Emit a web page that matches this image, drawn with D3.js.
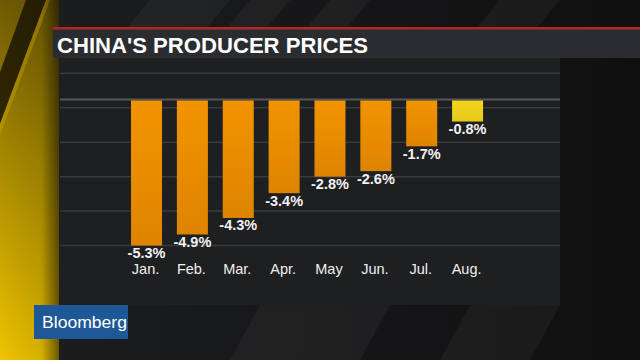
<!DOCTYPE html>
<html>
<head>
<meta charset="utf-8">
<script src="https://cdn.jsdelivr.net/npm/d3@7"></script>
<style>
  html, body { margin: 0; padding: 0; background: #151516; }
  svg { display: block; }
</style>
</head>
<body>
<svg id="chart" width="640" height="360"></svg>
<script>
// ---- data ----
const title = "CHINA'S PRODUCER PRICES";
const months = ["Jan.", "Feb.", "Mar.", "Apr.", "May", "Jun.", "Jul.", "Aug."];
const values = [-5.3, -4.9, -4.3, -3.4, -2.8, -2.6, -1.7, -0.8];
const valueLabels = ["-5.3%", "-4.9%", "-4.3%", "-3.4%", "-2.8%", "-2.6%", "-1.7%", "-0.8%"];
const gridValues = [0.95, -0.3, -1.55, -2.8, -4.05, -5.3];
const brand = "Bloomberg";

const W = 640, H = 360;
const svg = d3.select("#chart");
const defs = svg.append("defs");

// gradients
const bgGrad = defs.append("linearGradient").attr("id", "bgGrad").attr("x1", 0).attr("y1", 0).attr("x2", 1).attr("y2", 0);
bgGrad.append("stop").attr("offset", "0%").attr("stop-color", "#1d1e20");
bgGrad.append("stop").attr("offset", "100%").attr("stop-color", "#0f0f10");

const yel = defs.append("linearGradient").attr("id", "yel").attr("x1", 0).attr("y1", 0).attr("x2", 0).attr("y2", 1);
yel.append("stop").attr("offset", "0%").attr("stop-color", "#6e5a04");
yel.append("stop").attr("offset", "45%").attr("stop-color", "#a88a00");
yel.append("stop").attr("offset", "100%").attr("stop-color", "#efc400");

const shade = defs.append("linearGradient").attr("id", "shade").attr("x1", 0).attr("y1", 0).attr("x2", 1).attr("y2", 0);
shade.append("stop").attr("offset", "0%").attr("stop-color", "#000").attr("stop-opacity", 0);
shade.append("stop").attr("offset", "70%").attr("stop-color", "#000").attr("stop-opacity", 0.1);
shade.append("stop").attr("offset", "100%").attr("stop-color", "#000").attr("stop-opacity", 0.55);

const barGrad = defs.append("linearGradient").attr("id", "barGrad").attr("x1", 0).attr("y1", 0).attr("x2", 0).attr("y2", 1);
barGrad.append("stop").attr("offset", "0%").attr("stop-color", "#f29400");
barGrad.append("stop").attr("offset", "100%").attr("stop-color", "#de8400");

const augGrad = defs.append("linearGradient").attr("id", "augGrad").attr("x1", 0).attr("y1", 0).attr("x2", 0).attr("y2", 1);
augGrad.append("stop").attr("offset", "0%").attr("stop-color", "#f3d51f");
augGrad.append("stop").attr("offset", "100%").attr("stop-color", "#e8c81a");

// background
svg.append("rect").attr("width", W).attr("height", H).attr("fill", "url(#bgGrad)");

// faint diagonal stripes in background
const stripes = [
  [[150, 0], [230, 0], [205, 30], [125, 30]],
  [[250, 0], [290, 0], [265, 30], [225, 30]],
  [[330, 0], [370, 0], [345, 30], [305, 30]],
  [[500, 0], [560, 0], [535, 30], [475, 30]],
  [[260, 305], [330, 305], [300, 360], [230, 360]],
  [[330, 305], [390, 305], [360, 360], [300, 360]],
  [[470, 305], [560, 305], [530, 360], [440, 360]]
];
svg.append("g").selectAll("polygon").data(stripes).join("polygon")
  .attr("points", d => d.map(p => p.join(",")).join(" "))
  .attr("fill", "#ffffff").attr("opacity", 0.045);

// yellow left strip
svg.append("rect").attr("x", 0).attr("y", 0).attr("width", 59).attr("height", H).attr("fill", "url(#yel)");
svg.append("polygon").attr("points", "26,0 46,0 0,124 0,72").attr("fill", "#1c1603").attr("opacity", 0.85);
svg.append("polygon").attr("points", "46,0 50,0 0,135 0,124").attr("fill", "#c9a200").attr("opacity", 0.5);
svg.append("rect").attr("x", 0).attr("y", 0).attr("width", 59).attr("height", H).attr("fill", "url(#shade)");

// chart panel
svg.append("rect").attr("x", 59).attr("y", 58).attr("width", 501).attr("height", 247).attr("fill", "#1e1f21");

// title bar
svg.append("rect").attr("x", 53).attr("y", 28).attr("width", W - 53).attr("height", 30).attr("fill", "#2a2c2f");
svg.append("rect").attr("x", 53).attr("y", 27).attr("width", W - 53).attr("height", 2.5).attr("fill", "#b0262b");
svg.append("text").attr("x", 57).attr("y", 52.5)
  .attr("font-family", "Liberation Sans, Arial, sans-serif").attr("font-weight", "bold")
  .attr("font-size", 22).attr("fill", "#ffffff")
  .attr("textLength", 311).attr("lengthAdjust", "spacingAndGlyphs")
  .text(title);

// scales
const x = d3.scaleBand().domain(months).range([123.6, 490.5]).paddingInner(0.324).paddingOuter(0.162);
const y = d3.scaleLinear().domain([0, -5.3]).range([99.5, 245.5]);

// grid lines
svg.append("g").selectAll("line").data(gridValues).join("line")
  .attr("x1", 60).attr("x2", 560)
  .attr("y1", d => y(d)).attr("y2", d => y(d))
  .attr("stroke", "#3a3b3e").attr("stroke-width", 1.5);

// zero line
svg.append("line").attr("x1", 60).attr("x2", 560).attr("y1", y(0)).attr("y2", y(0))
  .attr("stroke", "#55575a").attr("stroke-width", 2);

// bars
svg.append("g").selectAll("rect").data(values).join("rect")
  .attr("x", (d, i) => x(months[i]))
  .attr("width", x.bandwidth())
  .attr("y", y(0) + 1)
  .attr("height", d => y(d) - y(0) - 1)
  .attr("fill", (d, i) => i === values.length - 1 ? "url(#augGrad)" : "url(#barGrad)");

// value labels
svg.append("g").selectAll("text").data(values).join("text")
  .attr("x", (d, i) => x(months[i]) + x.bandwidth() / 2)
  .attr("y", d => y(d) + 12.5)
  .attr("text-anchor", "middle")
  .attr("font-family", "Liberation Sans, Arial, sans-serif").attr("font-weight", "bold")
  .attr("font-size", 14.5).attr("fill", "#f2f2f2")
  .text((d, i) => valueLabels[i]);

// month labels
svg.append("g").selectAll("text").data(months).join("text")
  .attr("x", d => x(d) + x.bandwidth() / 2 - 1)
  .attr("y", 273.5)
  .attr("text-anchor", "middle")
  .attr("font-family", "Liberation Sans, Arial, sans-serif")
  .attr("font-size", 14.5).attr("fill", "#f0f0f0")
  .text(d => d);

// Bloomberg badge
svg.append("rect").attr("x", 34).attr("y", 305).attr("width", 94).attr("height", 34).attr("fill", "#1e5896");
svg.append("text").attr("x", 42).attr("y", 328)
  .attr("font-family", "Liberation Sans, Arial, sans-serif")
  .attr("font-size", 17).attr("fill", "#ffffff")
  .attr("textLength", 85).attr("lengthAdjust", "spacingAndGlyphs")
  .text(brand);
</script>
</body>
</html>
